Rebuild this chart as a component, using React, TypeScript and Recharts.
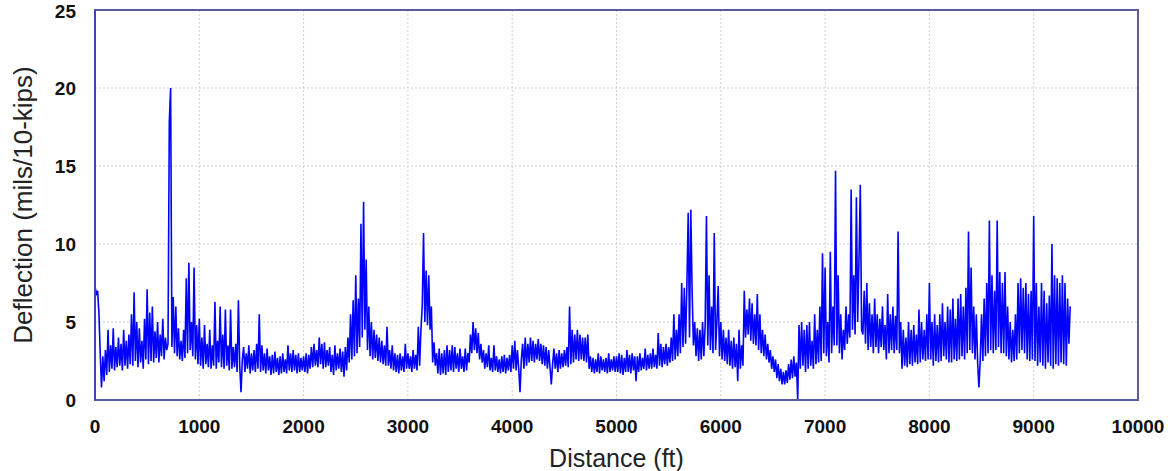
import { CartesianGrid, Line, LineChart, ReferenceArea, XAxis, YAxis } from "recharts";

// deflection readings, one every 12.5 ft, grouped by 1000-ft stretch
const seg0 = [
  7.3, 6.8, 7.0, 5.6, 3.0, 0.8, 2.8, 1.2,
  3.2, 1.6, 4.5, 1.8, 3.5, 2.0, 4.6, 1.9,
  3.4, 2.1, 4.0, 2.2, 3.6, 1.9, 4.5, 2.2,
  3.8, 2.0, 4.2, 2.3, 5.5, 2.2, 6.9, 2.5,
  5.0, 2.1, 4.6, 2.4, 3.8, 2.0, 5.2, 2.6,
  7.1, 2.3, 5.6, 2.5, 6.0, 2.4, 4.4, 2.7,
  5.0, 2.4, 4.2, 2.8, 5.2, 2.6, 4.0, 3.2,
  3.6, 17.8, 20.0, 3.4, 6.6, 3.0, 6.0, 2.8,
  4.6, 2.6, 3.8, 2.5, 4.5, 2.7, 7.8, 3.0,
  8.8, 3.2, 5.0, 2.8, 8.5, 2.6, 4.8, 2.3,
];
const seg1 = [
  5.2, 2.2, 4.0, 2.0, 4.8, 2.3, 3.6, 2.1,
  4.5, 2.0, 3.5, 2.2, 6.3, 2.0, 3.8, 2.4,
  6.0, 2.1, 4.2, 2.0, 5.8, 2.2, 3.5, 1.9,
  5.8, 2.0, 3.4, 2.1, 3.6, 1.8, 6.4, 2.2,
  0.5, 2.6, 3.4, 1.8, 3.0, 2.0, 3.5, 1.7,
  3.0, 1.9, 3.2, 1.8, 3.6, 2.0, 5.5, 1.8,
  3.5, 1.9, 3.0, 1.7, 3.3, 1.9, 2.8, 1.6,
  2.9, 1.7, 3.1, 1.8, 2.7, 1.6, 2.8, 1.7,
  3.0, 1.8, 2.6, 1.7, 3.5, 1.9, 3.0, 1.8,
  3.2, 1.9, 2.9, 1.7, 3.0, 1.8, 2.7, 1.9,
];
const seg2 = [
  2.8, 1.8, 3.0, 1.7, 2.9, 2.0, 3.4, 2.1,
  3.6, 2.2, 3.2, 2.1, 4.0, 2.3, 3.6, 2.0,
  3.7, 2.1, 3.2, 2.2, 3.4, 1.8, 2.9, 1.6,
  3.5, 1.9, 3.0, 2.0, 3.3, 1.8, 3.1, 1.5,
  3.4, 1.9, 4.0, 2.4, 5.5, 2.6, 6.4, 2.8,
  8.0, 3.0, 6.5, 3.4, 11.3, 4.0, 12.7, 4.5,
  9.0, 3.2, 6.0, 2.8, 5.0, 2.6, 4.5, 2.7,
  4.2, 2.5, 4.0, 2.4, 3.8, 2.3, 3.5, 2.2,
  4.7, 2.2, 3.2, 2.0, 3.5, 1.9, 3.0, 1.8,
  2.9, 1.7, 3.0, 1.9, 2.8, 1.8, 3.6, 2.0,
];
const seg3 = [
  3.0, 2.0, 2.8, 1.8, 3.2, 2.0, 2.9, 1.9,
  4.7, 2.2, 4.5, 6.0, 10.7, 5.0, 8.3, 4.8,
  8.0, 4.5, 6.0, 2.4, 3.7, 2.2, 3.0, 1.7,
  3.3, 1.6, 3.0, 1.7, 3.2, 1.6, 3.5, 1.8,
  3.2, 1.9, 3.5, 1.8, 3.4, 2.0, 3.0, 1.8,
  3.3, 2.0, 2.8, 1.8, 3.3, 1.9, 3.0, 2.4,
  4.2, 3.0, 5.0, 3.2, 4.6, 3.0, 4.3, 2.6,
  3.6, 2.4, 3.2, 2.0, 3.0, 2.1, 3.5, 1.9,
  2.7, 1.8, 3.5, 1.9, 2.8, 1.8, 2.6, 1.7,
  2.8, 1.8, 2.9, 1.7, 2.7, 1.9, 2.9, 1.8,
];
const seg4 = [
  3.5, 2.0, 3.8, 1.9, 3.2, 2.0, 0.5, 2.6,
  3.6, 2.0, 4.0, 2.2, 3.6, 2.4, 4.0, 2.5,
  3.8, 2.4, 3.6, 2.6, 3.9, 2.5, 3.6, 2.3,
  3.5, 2.2, 3.4, 2.0, 3.2, 2.1, 1.0, 2.3,
  3.3, 2.0, 3.0, 1.8, 3.2, 2.0, 3.0, 2.1,
  3.2, 2.2, 3.4, 2.1, 6.0, 2.3, 4.5, 2.4,
  4.2, 2.6, 4.5, 2.5, 4.2, 2.6, 4.0, 2.5,
  4.0, 2.4, 4.2, 2.0, 2.8, 1.8, 2.7, 1.7,
  2.6, 1.8, 3.0, 1.7, 2.8, 1.9, 2.6, 1.8,
  2.7, 1.7, 3.0, 1.8, 2.6, 1.9, 2.8, 1.8,
];
const seg5 = [
  2.8, 1.8, 3.0, 1.7, 2.9, 1.6, 2.7, 1.8,
  3.2, 1.8, 2.9, 1.7, 3.0, 1.9, 2.8, 1.2,
  2.8, 1.8, 3.0, 1.9, 2.7, 2.0, 3.3, 1.9,
  2.9, 2.0, 3.0, 2.0, 3.3, 2.1, 2.9, 2.0,
  4.3, 2.2, 3.6, 2.1, 3.4, 2.3, 3.6, 2.2,
  3.4, 2.4, 4.0, 2.5, 5.5, 2.6, 4.5, 2.8,
  5.5, 3.0, 7.5, 3.4, 7.2, 3.6, 7.4, 12.0,
  4.0, 12.2, 7.0, 3.5, 5.0, 2.8, 4.6, 2.5,
  4.5, 2.6, 5.0, 2.8, 4.8, 11.8, 3.5, 8.0,
  3.2, 6.0, 3.0, 10.7, 3.2, 5.0, 7.3, 2.8,
];
const seg6 = [
  5.0, 2.6, 4.5, 2.5, 4.0, 2.3, 4.5, 2.2,
  3.8, 2.0, 4.0, 2.1, 3.6, 1.2, 4.5, 2.0,
  3.5, 2.2, 7.0, 4.0, 5.8, 4.2, 6.5, 3.8,
  6.2, 3.6, 5.5, 3.5, 6.8, 3.2, 5.5, 3.0,
  4.5, 2.8, 4.2, 2.6, 3.6, 2.4, 3.2, 2.0,
  2.8, 1.8, 2.6, 1.4, 2.3, 1.2, 2.0, 1.0,
  1.8, 1.0, 1.9, 1.1, 2.3, 1.3, 2.6, 1.4,
  2.8, 1.5, 2.4, 0.0, 4.8, 2.0, 5.0, 2.2,
  4.5, 1.8, 4.8, 2.0, 5.0, 2.2, 3.8, 2.0,
  5.5, 2.3, 4.5, 2.4, 6.0, 2.5, 9.4, 3.0,
];
const seg7 = [
  8.5, 2.8, 5.0, 2.4, 9.5, 3.0, 6.0, 3.5,
  14.7, 3.5, 8.0, 3.0, 5.5, 2.6, 4.5, 3.2,
  6.0, 3.6, 5.5, 4.0, 13.5, 4.5, 8.0, 4.2,
  13.0, 5.0, 9.0, 13.8, 4.5, 4.2, 7.0, 3.6,
  7.5, 3.2, 6.2, 3.4, 5.5, 3.0, 6.5, 3.4,
  5.5, 3.0, 5.2, 3.4, 6.0, 3.2, 4.8, 2.6,
  6.8, 3.0, 5.5, 3.2, 6.0, 3.0, 5.4, 3.2,
  10.8, 3.0, 5.0, 2.0, 4.5, 2.2, 4.0, 2.1,
  5.0, 2.3, 4.5, 2.2, 4.8, 2.4, 4.2, 2.3,
  5.8, 2.4, 5.0, 2.6, 4.5, 2.5, 5.5, 2.6,
];
const seg8 = [
  7.5, 2.6, 5.0, 2.2, 5.5, 2.5, 4.8, 2.4,
  5.5, 2.5, 6.2, 2.8, 5.0, 2.6, 6.0, 2.4,
  5.8, 2.4, 6.5, 2.6, 5.2, 2.5, 6.5, 2.6,
  6.8, 2.8, 6.0, 2.6, 7.2, 3.0, 10.8, 3.2,
  8.5, 3.0, 6.0, 2.6, 5.5, 2.4, 0.8, 2.6,
  5.5, 2.5, 6.5, 2.8, 7.5, 3.0, 11.5, 3.2,
  8.0, 3.0, 7.0, 3.2, 11.5, 3.4, 8.2, 3.0,
  7.5, 3.0, 8.2, 2.8, 6.0, 2.6, 5.0, 2.4,
  4.5, 2.5, 5.5, 2.6, 7.5, 3.0, 7.8, 3.2,
  7.2, 3.0, 7.5, 2.6, 6.8, 2.5, 7.0, 2.6,
];
const seg9 = [
  11.8, 2.5, 7.5, 2.2, 6.0, 2.4, 7.5, 2.2,
  7.0, 2.0, 6.2, 2.4, 6.7, 2.2, 10.0, 2.0,
  8.0, 2.3, 7.8, 2.2, 7.5, 2.4, 8.0, 2.3,
  7.5, 2.2, 6.5, 3.6, 6.0,
];

const STEP = 12.5;
const deflection = [...seg0, ...seg1, ...seg2, ...seg3, ...seg4, ...seg5, ...seg6, ...seg7, ...seg8, ...seg9];
const data = deflection.map((v, i) => ({ distance: i * STEP, deflection: v }));

const xTicks = [0, 1000, 2000, 3000, 4000, 5000, 6000, 7000, 8000, 9000, 10000];
const yTicks = [0, 5, 10, 15, 20, 25];

const FONT = "'Liberation Sans', Arial, sans-serif";
const tickStyle = { fontSize: 19, fontWeight: 700, fill: "#111", fontFamily: FONT };

export default function App() {
  return (
    <div style={{ position: "absolute", left: 0, top: 0, background: "#fff" }}>
      <LineChart
        width={1168}
        height={471}
        data={data}
        margin={{ top: 10, right: 30, bottom: 0, left: 35 }}
      >
        <CartesianGrid stroke="#cfcfcf" strokeDasharray="2 2" />
        <XAxis
          dataKey="distance"
          type="number"
          domain={[0, 10000]}
          ticks={xTicks}
          height={71}
          tickLine={false}
          tickSize={0}
          tickMargin={20}
          axisLine={{ stroke: "#5b5b9f", strokeWidth: 2 }}
          tick={tickStyle}
          label={{
            value: "Distance (ft)",
            position: "insideBottom",
            offset: 4,
            style: { fontSize: 25, fill: "#222", fontFamily: FONT },
          }}
        />
        <YAxis
          type="number"
          domain={[0, 25]}
          ticks={yTicks}
          width={60}
          tickLine={false}
          tickSize={0}
          tickMargin={19}
          axisLine={{ stroke: "#4343a8", strokeWidth: 2 }}
          tick={tickStyle}
          label={{
            value: "Deflection (mils/10-kips)",
            angle: -90,
            position: "insideLeft",
            offset: -12,
            style: { textAnchor: "middle", fontSize: 26, fill: "#222", fontFamily: FONT },
          }}
        />
        <ReferenceArea
          x1={0}
          x2={10000}
          y1={0}
          y2={25}
          fill="none"
          stroke="#5b5b9f"
          strokeWidth={2}
        />
        <Line
          type="linear"
          dataKey="deflection"
          stroke="#0000ff"
          strokeWidth={1.6}
          dot={false}
          isAnimationActive={false}
        />
      </LineChart>
    </div>
  );
}
